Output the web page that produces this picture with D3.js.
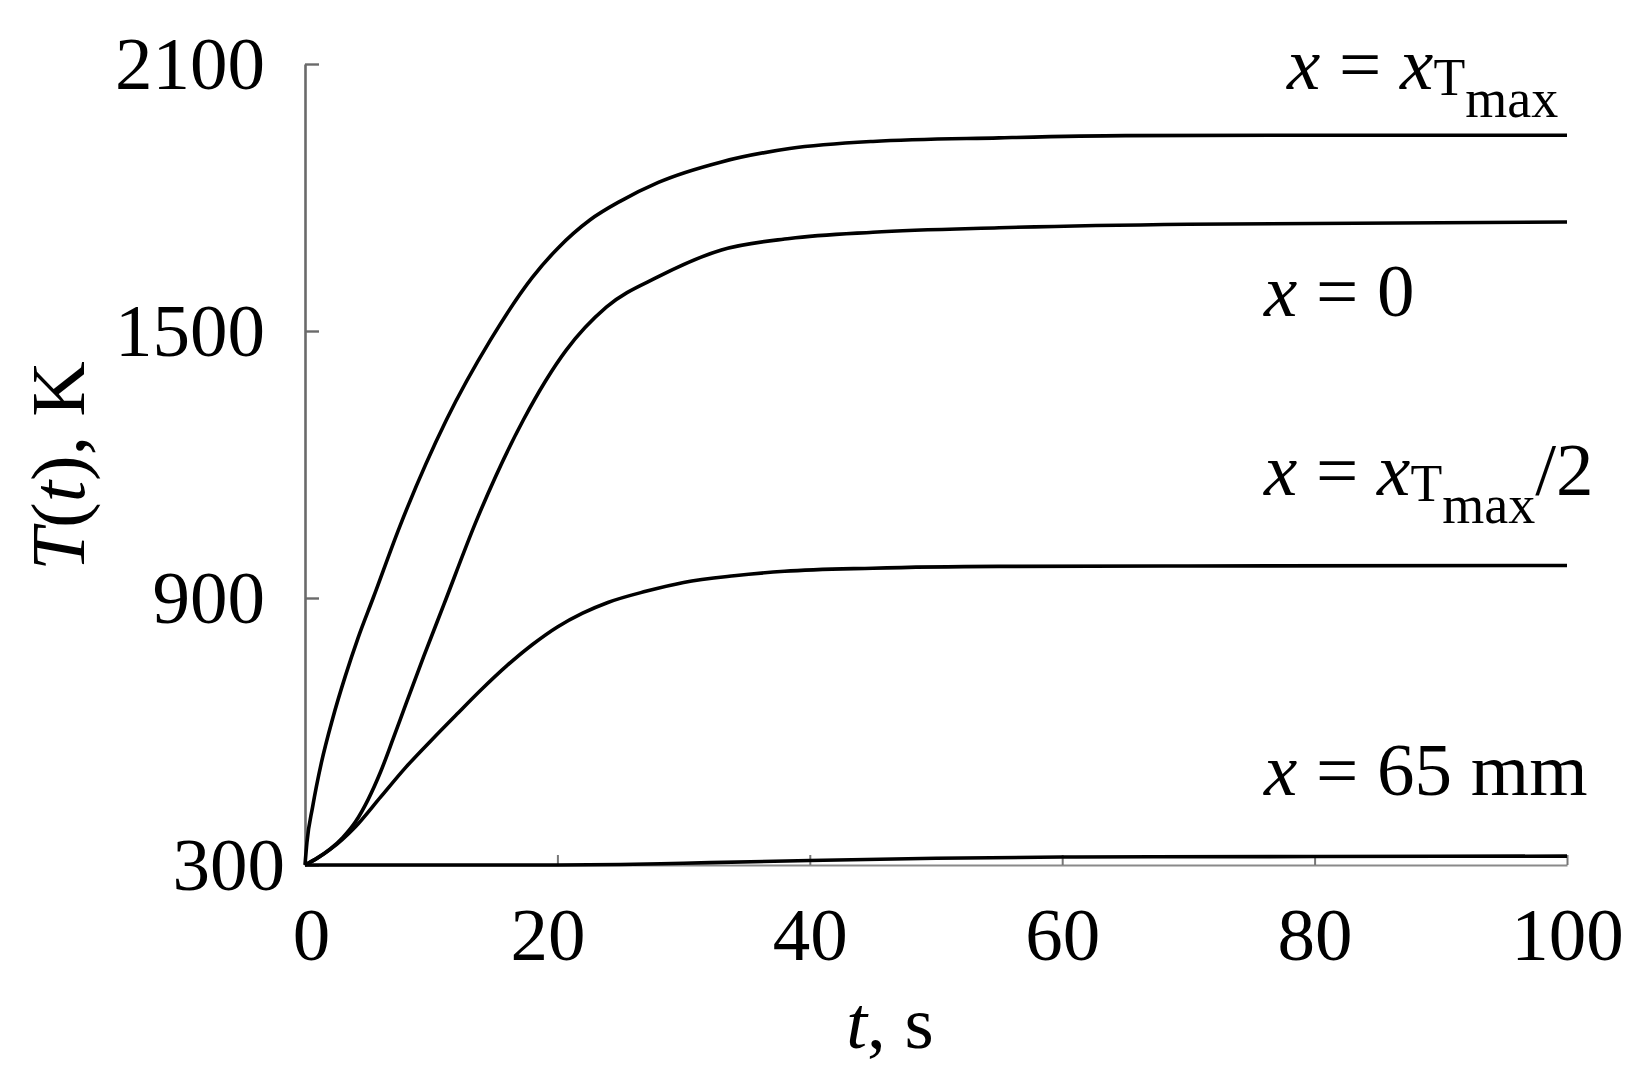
<!DOCTYPE html>
<html>
<head>
<meta charset="utf-8">
<script src="https://cdn.jsdelivr.net/npm/d3@7"></script>
<style>
  html, body { margin: 0; padding: 0; background: #fff; }
  svg text { font-family: "Liberation Serif", "DejaVu Serif", serif; fill: #000; }
</style>
</head>
<body>
<svg id="chart" width="1651" height="1077"></svg>
<script>
// ---- data ----
const xTicks = [0, 20, 40, 60, 80, 100];
const yTicks = [300, 900, 1500, 2100];

const tTmax = [0, 0.15, 0.6, 1.3, 2.2, 3.2, 4.2, 5.4, 7.5, 11.2, 14.7, 18, 20, 22.6, 25, 28, 33, 38.4, 45, 55, 65, 80, 100];
const TTmax = [300, 350, 430, 530, 630, 725, 810, 900, 1060, 1300, 1480, 1620, 1685, 1750, 1792, 1834, 1880, 1910, 1926, 1934, 1939, 1940, 1940];

const tZero = [0, 1, 2, 3, 4, 5, 6, 7, 8, 9.4, 11, 13.6, 17.3, 20.7, 23.9, 28, 33, 38.4, 45, 55, 70, 100];
const TZero = [300, 316, 336, 362, 397, 447, 510, 585, 662, 768, 885, 1075, 1300, 1457, 1554, 1622, 1682, 1708, 1722, 1732, 1740, 1745];

const tHalf = [0, 1, 2, 4, 6, 8, 10, 12, 14, 16, 18, 20, 22, 24, 27, 30, 34, 38, 45, 55, 70, 100];
const THalf = [300, 316, 335, 386, 453, 520, 580, 638, 695, 748, 795, 835, 866, 890, 915, 935, 950, 960, 967, 971, 972, 973];

const t65 = [0, 10, 20, 25, 30, 40, 50, 60, 80, 100];
const T65 = [300, 300, 300, 301, 304, 310, 315, 318, 319, 320];

const series = [
  { t: tTmax, T: TTmax },
  { t: tZero, T: TZero },
  { t: tHalf, T: THalf },
  { t: t65, T: T65 }
];

// ---- layout ----
const svg = d3.select("#chart");
const x = d3.scaleLinear().domain([0, 100]).range([305, 1567]);
const y = d3.scaleLinear().domain([300, 2100]).range([865, 64]);
const FS = 75;

// x axis
const gx = svg.append("g").attr("transform", `translate(0,${y(300)})`)
  .call(d3.axisBottom(x).tickValues(xTicks).tickSize(-10).tickSizeOuter(0).tickPadding(42).tickFormat(d3.format("d")));
gx.select(".domain").attr("stroke", "#8a8a8a").attr("stroke-width", 2.2);
gx.selectAll(".tick line").attr("stroke", "#777").attr("stroke-width", 2);
gx.selectAll(".tick text").attr("font-size", FS).attr("font-family", "Liberation Serif").attr("fill", "#000")
  .attr("dx", d => d === 0 ? 6 : (d === 20 ? -10 : 0));

// y axis
const gy = svg.append("g").attr("transform", `translate(${x(0)},0)`)
  .call(d3.axisLeft(y).tickValues(yTicks).tickSize(-14).tickSizeOuter(0).tickPadding(40).tickFormat(d3.format("d")));
gy.select(".domain").attr("stroke", "#6a6a6a").attr("stroke-width", 2.6);
gy.selectAll(".tick line").attr("stroke", "#6a6a6a").attr("stroke-width", 2.4);
gy.selectAll(".tick text").attr("font-size", FS).attr("font-family", "Liberation Serif").attr("fill", "#000")
  .attr("dx", d => d === 300 ? 20 : 0);

// curves
const line = d3.line().x(d => x(d[0])).y(d => y(d[1])).curve(d3.curveMonotoneX);
series.forEach(s => {
  const pts = s.t.map((tv, i) => [tv, s.T[i]]);
  svg.append("path").datum(pts).attr("d", line)
    .attr("fill", "none").attr("stroke", "#000").attr("stroke-width", 3.6)
    .attr("stroke-linejoin", "round");
});

// axis titles
svg.append("text").attr("transform", "translate(84,466) rotate(-90)")
  .attr("text-anchor", "middle").attr("font-size", 77)
  .html('<tspan font-style="italic">T</tspan>(<tspan font-style="italic">t</tspan>), K');

svg.append("text").attr("x", 890).attr("y", 1048)
  .attr("text-anchor", "middle").attr("font-size", FS)
  .html('<tspan font-style="italic">t</tspan>, s');

// curve labels
function label(xp, yp, html) {
  svg.append("text").attr("x", xp).attr("y", yp).attr("font-size", FS).html(html);
}
label(1287, 89, '<tspan font-style="italic">x</tspan> = <tspan font-style="italic">x</tspan><tspan font-size="52" dy="6">T</tspan><tspan font-size="54" dy="22">max</tspan>');
label(1264, 316, '<tspan font-style="italic">x</tspan> = 0');
label(1264, 495, '<tspan font-style="italic">x</tspan> = <tspan font-style="italic">x</tspan><tspan font-size="52" dy="6">T</tspan><tspan font-size="54" dy="22">max</tspan><tspan dy="-28">/2</tspan>');
label(1264, 795, '<tspan font-style="italic">x</tspan> = 65 mm');
</script>
</body>
</html>
